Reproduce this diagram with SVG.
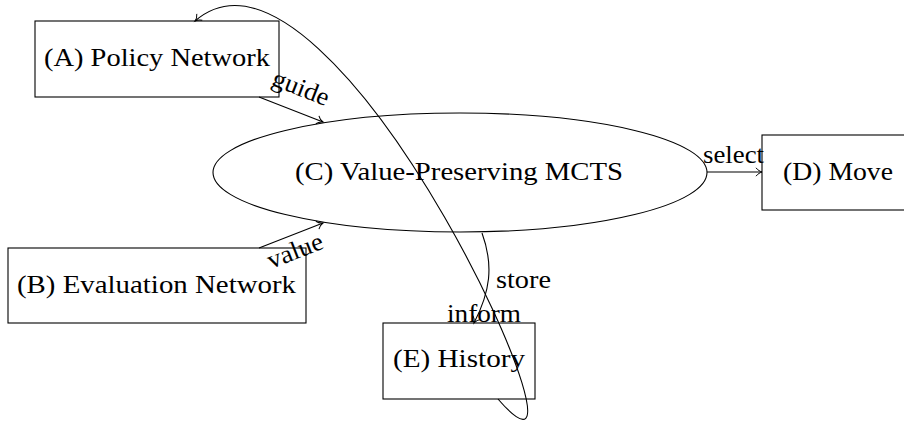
<svg xmlns="http://www.w3.org/2000/svg" width="904" height="422" viewBox="0 0 904 422">
<style>
.box{fill:none;stroke:#000;stroke-width:1.1}
.lbl{font-family:"Liberation Serif","Times New Roman",serif;font-size:25.5px;fill:#000}
.edge{fill:none;stroke:#000;stroke-width:1.1}
</style>
<defs>
<marker id="arr" markerUnits="userSpaceOnUse" viewBox="-8 -6 10 12" markerWidth="10" markerHeight="12" refX="0" refY="0" orient="auto" overflow="visible">
<path d="M-6,-4.2 C-4.5,-2 -1.5,-0.4 0,0 C-1.5,0.4 -4.5,2 -6,4.2" fill="none" stroke="#000" stroke-width="1"/>
</marker>
</defs>
<rect width="904" height="422" fill="#fff"/>
<g id="nodeA">
<rect class="box" x="35" y="21" width="244" height="76"/>
<text class="lbl" x="157" y="66" text-anchor="middle" textLength="226" lengthAdjust="spacingAndGlyphs">(A) Policy Network</text>
</g>
<g id="nodeB">
<rect class="box" x="8" y="248" width="298" height="75"/>
<text class="lbl" x="156.5" y="293" text-anchor="middle" textLength="279" lengthAdjust="spacingAndGlyphs">(B) Evaluation Network</text>
</g>
<g id="nodeC">
<ellipse class="box" cx="460" cy="172.5" rx="247" ry="59.5"/>
<text class="lbl" x="459" y="180" text-anchor="middle" textLength="328" lengthAdjust="spacingAndGlyphs">(C) Value-Preserving MCTS</text>
</g>
<g id="nodeD">
<rect class="box" x="762" y="135" width="152" height="75"/>
<text class="lbl" x="838" y="180" text-anchor="middle" textLength="110" lengthAdjust="spacingAndGlyphs">(D) Move</text>
</g>
<g id="nodeE">
<rect class="box" x="383" y="323" width="152" height="76"/>
<text class="lbl" x="459" y="367" text-anchor="middle" textLength="132" lengthAdjust="spacingAndGlyphs">(E) History</text>
</g>
<g id="connectors">
<line class="edge" x1="259" y1="97" x2="323" y2="122" marker-end="url(#arr)"/>
<text class="lbl" x="298" y="95.5" text-anchor="middle" transform="rotate(21.3 298 95.5)" textLength="59" lengthAdjust="spacingAndGlyphs">guide</text>
<line class="edge" x1="259" y1="248" x2="323" y2="223" marker-end="url(#arr)"/>
<text class="lbl" x="298" y="258.5" text-anchor="middle" transform="rotate(-21.3 298 258.5)" textLength="58" lengthAdjust="spacingAndGlyphs">value</text>
<line class="edge" x1="707" y1="172" x2="762" y2="172" marker-end="url(#arr)"/>
<text class="lbl" x="733.5" y="163" text-anchor="middle" textLength="61" lengthAdjust="spacingAndGlyphs">select</text>
<path class="edge" d="M482,233 C494,266 490,292 474,323" marker-end="url(#arr)"/>
<text class="lbl" x="496" y="288" textLength="55" lengthAdjust="spacingAndGlyphs">store</text>
<path class="edge" d="M498,399 C620,540 335,-100 195,21" marker-end="url(#arr)"/>
<text class="lbl" x="484" y="322" text-anchor="middle" textLength="74" lengthAdjust="spacingAndGlyphs">inform</text>
</g>
</svg>
